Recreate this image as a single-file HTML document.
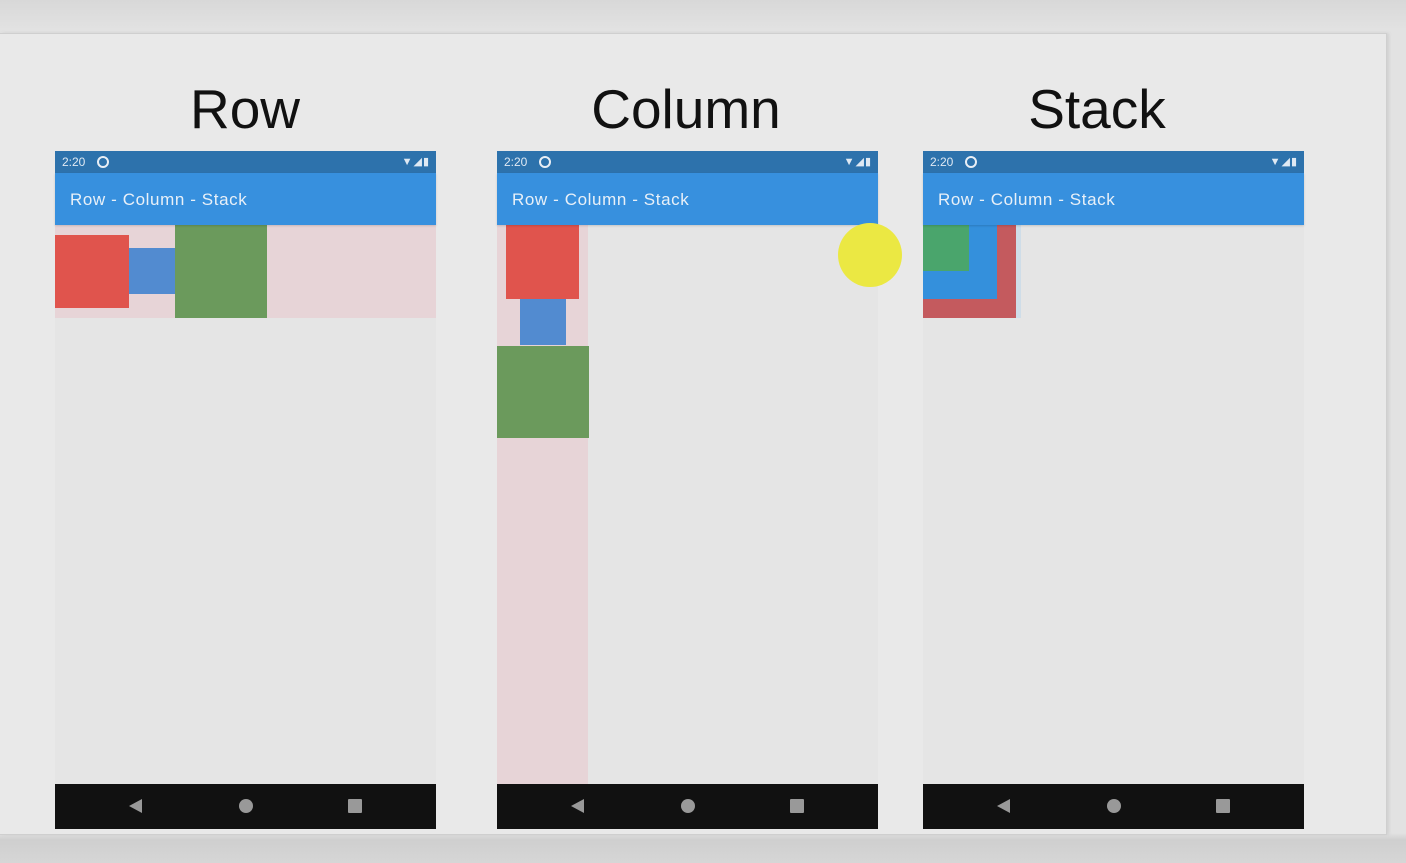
<!DOCTYPE html>
<html><head><meta charset="utf-8"><style>
*{margin:0;padding:0;box-sizing:border-box}
body{width:1406px;height:863px;overflow:hidden;position:relative;background:linear-gradient(#d8d8d8,#e2e2e2 30px,#e2e2e2 833px,#cfcfcf 840px,#d6d6d6);font-family:"Liberation Sans",sans-serif}
.slide{position:absolute;left:0;top:33px;width:1387px;height:802px;background:#e9e9e9;border:1px solid #cfcfcf;border-left:none;box-shadow:2px 0 3px #d0d0d0}
.a{position:absolute}
.title{position:absolute;top:74px;font-family:"Liberation Sans","DejaVu Sans",sans-serif;font-size:55px;color:#111;width:300px;text-align:center;line-height:70px}
.phone{position:absolute;top:151px;width:381px;height:678px;background:#e5e5e5}
.sb{position:absolute;left:0;top:0;width:100%;height:22px;background:#2d72ac;color:#dfe9f3;font-size:12px;line-height:22px;padding-left:7px}
.sb .ic{position:absolute;left:42px;top:5px;width:12px;height:12px;border:2px solid #e8eef5;border-radius:50%}
.sb .r{position:absolute;right:6px;top:0;font-size:11px;letter-spacing:1px}
.ab{position:absolute;left:0;top:22px;width:100%;height:52px;background:#3790de;color:#e8f0f8;font-size:17px;line-height:54px;padding-left:15px;box-shadow:0 1px 2px rgba(0,0,0,.15);letter-spacing:0.6px}
.nav{position:absolute;left:0;bottom:0;width:100%;height:45px;background:#111}
.tri{position:absolute;top:15px;left:74px;width:0;height:0;border-top:7px solid transparent;border-bottom:7px solid transparent;border-right:13px solid #999}
.dot{position:absolute;top:15px;left:184px;width:14px;height:14px;border-radius:50%;background:#999}
.sq{position:absolute;top:15px;left:293px;width:14px;height:14px;background:#999;border-radius:1px}
</style></head><body>
<div class="slide"></div>
<div class="title" style="left:95px">Row</div>
<div class="title" style="left:536px">Column</div>
<div class="title" style="left:947px">Stack</div>

<div class="phone" style="left:55px">
 <div class="sb">2:20<div class="ic"></div><span class="r">▼◢▮</span></div>
 <div class="a" style="left:0;top:74px;width:381px;height:93px;background:#e7d4d7"></div>
 <div class="a" style="left:0;top:84px;width:74px;height:73px;background:#e0544d"></div>
 <div class="a" style="left:74px;top:97px;width:46px;height:46px;background:#528bd0"></div>
 <div class="a" style="left:120px;top:74px;width:92px;height:93px;background:#6b9a5c"></div>
 <div class="ab">Row - Column - Stack</div>
 <div class="nav"><div class="tri"></div><div class="dot"></div><div class="sq"></div></div>
</div>

<div class="phone" style="left:497px">
 <div class="sb">2:20<div class="ic"></div><span class="r">▼◢▮</span></div>
 <div class="a" style="left:0;top:74px;width:91px;height:560px;background:#e7d4d7"></div>
 <div class="a" style="left:9px;top:74px;width:73px;height:74px;background:#e0544d"></div>
 <div class="a" style="left:23px;top:148px;width:46px;height:46px;background:#528bd0"></div>
 <div class="a" style="left:0;top:195px;width:92px;height:92px;background:#6b9a5c"></div>
 <div class="ab">Row - Column - Stack</div>
 <div class="nav"><div class="tri"></div><div class="dot"></div><div class="sq"></div></div>
</div>

<div class="phone" style="left:923px">
 <div class="sb">2:20<div class="ic"></div><span class="r">▼◢▮</span></div>
 <div class="a" style="left:0;top:74px;width:98px;height:93px;background:#cfdde8"></div>
 <div class="a" style="left:0;top:74px;width:93px;height:93px;background:#c45a5e"></div>
 <div class="a" style="left:0;top:74px;width:74px;height:74px;background:#3490dc"></div>
 <div class="a" style="left:0;top:74px;width:46px;height:46px;background:#4aa56c"></div>
 <div class="ab">Row - Column - Stack</div>
 <div class="nav"><div class="tri"></div><div class="dot"></div><div class="sq"></div></div>
</div>

<div class="a" style="left:838px;top:223px;width:64px;height:64px;border-radius:50%;background:#ebe843"></div>
</body></html>
